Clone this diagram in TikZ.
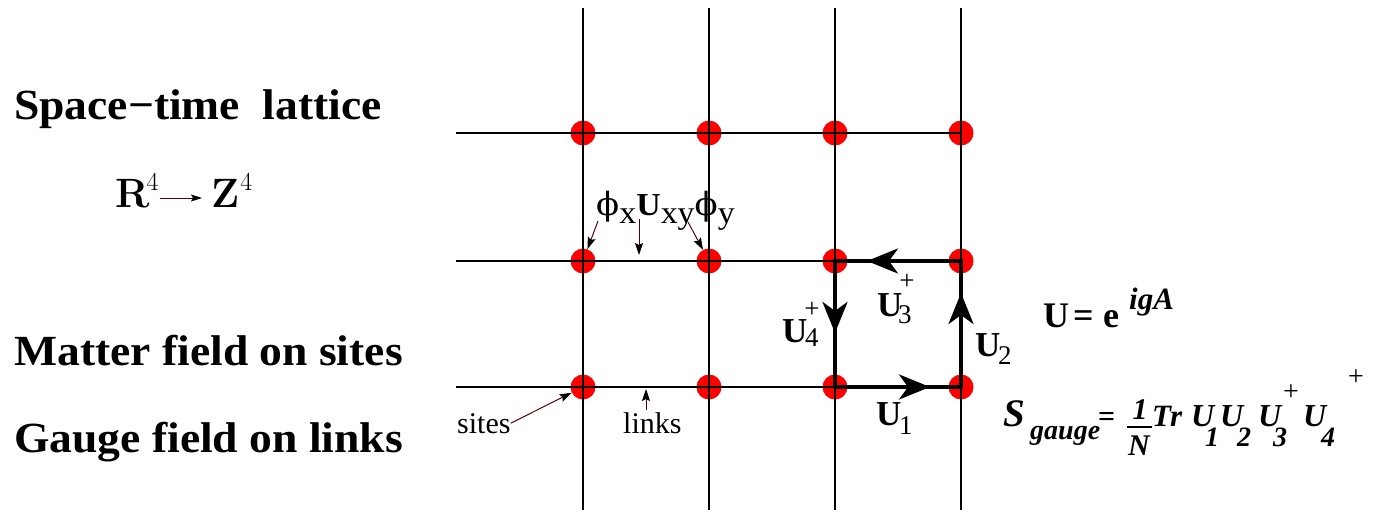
\documentclass[tikz,border=0pt]{standalone}
\usepackage{fontspec}
\setmainfont{Liberation Serif}
\newfontfamily\lmr{Latin Modern Roman}
\newfontfamily\dvs{DejaVu Serif}
\usetikzlibrary{arrows.meta,calc}
\definecolor{dotred}{RGB}{255,0,0}
\definecolor{lblline}{RGB}{90,0,0}
\newcommand{\hs}[1]{\scalebox{1.06}[1]{#1}}
\newcommand{\fs}[1]{\fontsize{#1}{#1}\selectfont}
\begin{document}
\begin{tikzpicture}[x=1pt,y=-1pt,
  txt/.style={inner sep=0pt, anchor=base west},
  ctxt/.style={inner sep=0pt},
  site/.style={circle, fill=dotred, minimum size=25pt, inner sep=0pt},
  gridline/.style={line width=1.3pt},
  plaq/.style={line width=3.8pt, line join=miter},
  bigarrow/.style={-{Stealth[length=31pt,width=25pt,inset=9pt]}, line width=3.8pt},
  lblarrow/.style={draw=lblline, line width=1pt, -{Stealth[length=12pt,width=8pt,inset=2pt,black]}},
]
\useasboundingbox (0,0) rectangle (1374,514);
% sites
\foreach \i/\x in {1/583,2/709,3/835,4/961}{
  \foreach \j/\y in {1/133,2/261,3/387}{
    \node[site] (d\i\j) at (\x,\y) {};
  }
}
% lattice lines
\foreach \x in {583,709,835,961}{\draw[gridline] (\x,8) -- (\x,510);}
\foreach \y in {133,261,387}{\draw[gridline] (456,\y) -- (961,\y);}
% plaquette
\draw[plaq] (d32.center) -- (d42.center) -- (d43.center) -- (d33.center) -- cycle;
\draw[bigarrow] (d33.center) -- ($(d33.center)!0.754!(d43.center)$);
\draw[bigarrow] (d43.center) -- ($(d43.center)!0.746!(d42.center)$);
\draw[bigarrow] (d42.center) -- ($(d42.center)!0.746!(d32.center)$);
\draw[bigarrow] (d32.center) -- ($(d32.center)!0.571!(d33.center)$);
% left texts
\node[txt] (st) at (14,119) {\hs{\fs{43}\bfseries Space−time\ \ lattice}};
\node[txt] (mf) at (14,365) {\hs{\fs{43}\bfseries Matter field on sites}};
\node[txt] (gf) at (14,452) {\hs{\fs{43}\bfseries Gauge field on links}};
% R4 -> Z4
\node[txt] (R) at (115,207) {\lmr\fs{41}\bfseries R\kern-3pt\raisebox{17pt}{\fs{26}\mdseries 4}};
\node[txt] (Z) at (211,207) {\lmr\fs{41}\bfseries Z\kern1pt\raisebox{17pt}{\fs{26}\mdseries 4}};
\draw[lblarrow, -{Stealth[length=11pt,width=7pt,inset=2pt,black]}] ($(R.base east)+(1,-9)$) -- ($(Z.base west)+(-9,-9)$);
% phi U phi label
\node[txt] (phi) at (596,215) {\hs{\fs{32}{\dvs ϕ}\raisebox{-8pt}{x}\textbf{U}\raisebox{-8pt}{xy}{\dvs ϕ}\raisebox{-8pt}{y}}};
\coordinate (pa1) at (598,221);
\coordinate (pa2) at (639,219);
\coordinate (pa2e) at (639,255);
\coordinate (pa3) at (688,222);
\draw[lblarrow] (pa1) -- (d12);
\draw[lblarrow] (pa2) -- (pa2e);
\draw[lblarrow] (pa3) -- (d22);
% sites / links
\node[txt] (sites) at (457,433) {\fs{30}sites};
\draw[lblarrow] (sites.east) -- (d13);
\node[txt] (links) at (623,433) {\fs{30}links};
\coordinate (la) at (646,410);
\coordinate (lb) at (646,389);
\draw[lblarrow] (la) -- (lb);
% plaquette labels
\node[txt] (U4) at (782,342) {\fs{35}\bfseries U};
\node[txt] (U4s) at (805,346) {\fs{27}4};
\node[ctxt] (U4p) at (812,310) {\fs{27}+};
\node[txt] (U3) at (877,316) {\fs{35}\bfseries U};
\node[txt] (U3s) at (898,323) {\fs{27}3};
\node[ctxt] (U3p) at (907,282) {\fs{27}+};
\node[txt] (U1) at (876,425) {\fs{35}\bfseries U};
\node[txt] (U1s) at (899,434) {\fs{27}1};
\node[txt] (U2) at (975,356) {\fs{35}\bfseries U};
\node[txt] (U2s) at (998,364) {\fs{27}2};
% U = e^{igA}
\node[txt] (Ueq) at (1043,327) {\fs{36}\bfseries U};
\node[txt] (Ueqs) at (1073,327) {\fs{36}\bfseries =};
\node[txt] (Ueqe) at (1103,327) {\fs{36}\bfseries e};
\node[txt] (igA) at (1129,309) {\fs{31}\bfseries\itshape igA};
% S gauge
\node[txt] (S) at (1003,426) {\fs{39}\bfseries\itshape S};
\node[txt] (gauge) at (1030,439) {\fs{28}\bfseries\itshape gauge};
\node[txt] (eq2) at (1098,426) {\fs{30}\bfseries =};
\node[ctxt, anchor=base] (one) at (1140,419) {\fs{30}\bfseries\itshape 1};
\node[ctxt, anchor=base] (N) at (1139,455) {\fs{30}\bfseries\itshape N};
\draw[line width=1.8pt] ($(one.base)+(-13,8)$) -- ($(one.base)+(12,8)$);
\node[txt] (Tr) at (1152,426) {\fs{31}\bfseries\itshape Tr};
\node[txt] (f1) at (1191,426) {\fs{32}\bfseries\itshape U};
\node[txt] (f1s) at (1205,446) {\fs{28}\bfseries\itshape 1};
\node[txt] (f2) at (1220,426) {\fs{32}\bfseries\itshape U};
\node[txt] (f2s) at (1237,446) {\fs{28}\bfseries\itshape 2};
\node[txt] (f3) at (1258,426) {\fs{32}\bfseries\itshape U};
\node[txt] (f3s) at (1273,446) {\fs{28}\bfseries\itshape 3};
\node[ctxt] (f3p) at (1291,393) {\fs{28}+};
\node[txt] (f4) at (1303,426) {\fs{32}\bfseries\itshape U};
\node[txt] (f4s) at (1321,446) {\fs{28}\bfseries\itshape 4};
\node[ctxt] (f4p) at (1356,378) {\fs{28}+};
\end{tikzpicture}
\end{document}
